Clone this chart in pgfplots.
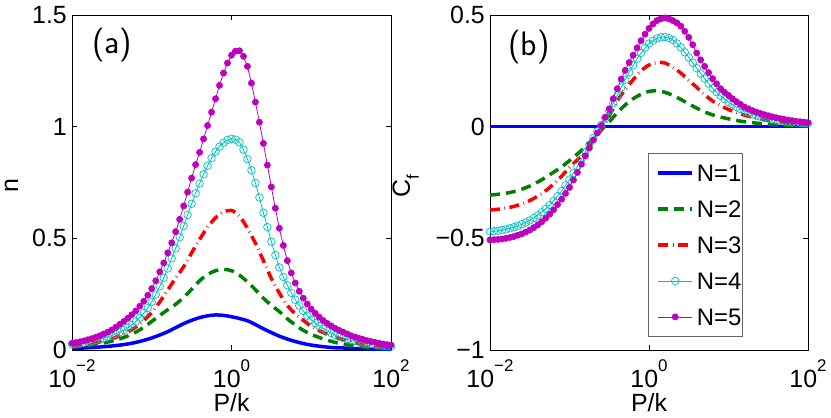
\documentclass[border=0pt]{standalone}
\usepackage{fontspec}
\setmainfont{Liberation Sans}
\usepackage{pgfplots}
\pgfplotsset{compat=1.18}
\usepackage{pgfplotstable}

\definecolor{mgreen}{rgb}{0,0.5,0}
\definecolor{mcyan}{rgb}{0,0.75,0.75}
\definecolor{mmag}{rgb}{0.75,0,0.75}

% L = log10(P/k)
\pgfplotstableread{
L n1 n2 n3
-2.0 0.007 0.014 0.019
-1.9 0.008 0.017 0.023
-1.8 0.010 0.021 0.027
-1.7 0.012 0.026 0.033
-1.6 0.015 0.032 0.040
-1.5 0.018 0.040 0.050
-1.4 0.022 0.050 0.064
-1.3 0.027 0.063 0.081
-1.2 0.034 0.080 0.103
-1.1 0.043 0.102 0.132
-1.0 0.054 0.128 0.168
-0.9 0.067 0.155 0.215
-0.8 0.082 0.180 0.268
-0.7 0.100 0.205 0.322
-0.6 0.118 0.235 0.373
-0.5 0.133 0.272 0.435
-0.4 0.145 0.310 0.495
-0.3 0.153 0.338 0.550
-0.2 0.157 0.355 0.592
-0.1 0.155 0.361 0.618
0.0 0.149 0.355 0.625
0.1 0.141 0.335 0.600
0.2 0.131 0.305 0.545
0.3 0.114 0.270 0.478
0.4 0.095 0.232 0.400
0.5 0.078 0.200 0.320
0.6 0.062 0.172 0.255
0.7 0.049 0.140 0.200
0.8 0.038 0.112 0.162
0.9 0.029 0.088 0.133
1.0 0.022 0.070 0.106
1.1 0.017 0.056 0.087
1.2 0.013 0.044 0.070
1.3 0.010 0.034 0.057
1.4 0.009 0.027 0.046
1.5 0.007 0.021 0.037
1.6 0.006 0.016 0.030
1.7 0.005 0.013 0.024
1.8 0.004 0.011 0.020
1.9 0.004 0.009 0.016
2.0 0.003 0.008 0.013
}\tabAc

\pgfplotstableread{
L n4 n5
-2.00 0.025 0.030
-1.95 0.027 0.033
-1.90 0.030 0.037
-1.85 0.033 0.041
-1.80 0.036 0.046
-1.75 0.040 0.051
-1.70 0.044 0.057
-1.65 0.048 0.064
-1.60 0.053 0.072
-1.55 0.059 0.080
-1.50 0.065 0.090
-1.45 0.072 0.102
-1.40 0.080 0.115
-1.35 0.089 0.128
-1.30 0.100 0.142
-1.25 0.112 0.158
-1.20 0.127 0.175
-1.15 0.145 0.196
-1.10 0.165 0.218
-1.05 0.188 0.245
-1.00 0.215 0.275
-0.95 0.248 0.310
-0.90 0.285 0.350
-0.85 0.323 0.390
-0.80 0.365 0.435
-0.75 0.410 0.480
-0.70 0.455 0.530
-0.65 0.505 0.585
-0.60 0.555 0.645
-0.55 0.605 0.707
-0.50 0.655 0.770
-0.45 0.702 0.830
-0.40 0.745 0.885
-0.35 0.787 0.945
-0.30 0.825 1.005
-0.25 0.859 1.065
-0.20 0.888 1.125
-0.15 0.911 1.185
-0.10 0.928 1.240
-0.05 0.940 1.285
0.00 0.946 1.320
0.05 0.942 1.338
0.10 0.930 1.340
0.15 0.897 1.315
0.20 0.855 1.270
0.25 0.805 1.195
0.30 0.748 1.110
0.35 0.683 1.020
0.40 0.615 0.925
0.45 0.550 0.828
0.50 0.485 0.730
0.55 0.425 0.635
0.60 0.370 0.545
0.65 0.327 0.468
0.70 0.290 0.400
0.75 0.256 0.345
0.80 0.225 0.300
0.85 0.199 0.263
0.90 0.175 0.232
0.95 0.154 0.206
1.00 0.135 0.183
1.05 0.120 0.164
1.10 0.107 0.147
1.15 0.096 0.132
1.20 0.085 0.119
1.25 0.076 0.108
1.30 0.067 0.097
1.35 0.060 0.088
1.40 0.054 0.080
1.45 0.049 0.072
1.50 0.044 0.064
1.55 0.040 0.058
1.60 0.036 0.052
1.65 0.032 0.047
1.70 0.029 0.042
1.75 0.026 0.038
1.80 0.024 0.034
1.85 0.021 0.030
1.90 0.019 0.027
1.95 0.017 0.024
2.00 0.015 0.022
}\tabAf

\pgfplotstableread{
L c1 c2 c3
-2.0 0 -0.306 -0.373
-1.9 0 -0.303 -0.370
-1.8 0 -0.298 -0.365
-1.7 0 -0.291 -0.357
-1.6 0 -0.280 -0.346
-1.5 0 -0.266 -0.331
-1.4 0 -0.248 -0.311
-1.3 0 -0.227 -0.287
-1.2 0 -0.204 -0.257
-1.1 0 -0.180 -0.222
-1.0 0 -0.152 -0.182
-0.9 0 -0.122 -0.148
-0.8 0 -0.090 -0.110
-0.7 0 -0.053 -0.062
-0.6 0 -0.015 -0.012
-0.5 0 0.022 0.048
-0.4 0 0.062 0.115
-0.3 0 0.097 0.166
-0.2 0 0.125 0.210
-0.1 0 0.145 0.250
0.0 0 0.158 0.276
0.1 0 0.161 0.288
0.2 0 0.154 0.285
0.3 0 0.140 0.266
0.4 0 0.122 0.240
0.5 0 0.102 0.208
0.6 0 0.083 0.176
0.7 0 0.066 0.143
0.8 0 0.053 0.115
0.9 0 0.043 0.094
1.0 0 0.035 0.077
1.1 0 0.028 0.063
1.2 0 0.022 0.052
1.3 0 0.018 0.042
1.4 0 0.014 0.034
1.5 0 0.011 0.028
1.6 0 0.009 0.023
1.7 0 0.007 0.020
1.8 0 0.006 0.017
1.9 0 0.005 0.015
2.0 0 0.004 0.013
}\tabBc

\pgfplotstableread{
L c4 c5
-2.00 -0.470 -0.507
-1.95 -0.468 -0.506
-1.90 -0.466 -0.505
-1.85 -0.463 -0.503
-1.80 -0.460 -0.500
-1.75 -0.455 -0.496
-1.70 -0.450 -0.492
-1.65 -0.444 -0.486
-1.60 -0.437 -0.480
-1.55 -0.429 -0.472
-1.50 -0.420 -0.463
-1.45 -0.409 -0.452
-1.40 -0.397 -0.440
-1.35 -0.383 -0.426
-1.30 -0.368 -0.410
-1.25 -0.351 -0.392
-1.20 -0.332 -0.372
-1.15 -0.311 -0.349
-1.10 -0.288 -0.325
-1.05 -0.263 -0.299
-1.00 -0.237 -0.272
-0.95 -0.208 -0.239
-0.90 -0.178 -0.205
-0.85 -0.146 -0.168
-0.80 -0.113 -0.131
-0.75 -0.081 -0.095
-0.70 -0.050 -0.060
-0.65 -0.021 -0.028
-0.60 0.008 0.005
-0.55 0.038 0.042
-0.50 0.070 0.080
-0.45 0.105 0.125
-0.40 0.140 0.170
-0.35 0.175 0.213
-0.30 0.210 0.252
-0.25 0.243 0.287
-0.20 0.275 0.320
-0.15 0.304 0.353
-0.10 0.330 0.385
-0.05 0.353 0.414
0.00 0.372 0.440
0.05 0.385 0.460
0.10 0.395 0.475
0.15 0.400 0.483
0.20 0.402 0.487
0.25 0.397 0.483
0.30 0.388 0.475
0.35 0.373 0.465
0.40 0.355 0.450
0.45 0.333 0.427
0.50 0.310 0.400
0.55 0.286 0.367
0.60 0.262 0.330
0.65 0.238 0.299
0.70 0.215 0.270
0.75 0.193 0.242
0.80 0.172 0.215
0.85 0.154 0.192
0.90 0.138 0.170
0.95 0.123 0.154
1.00 0.110 0.140
1.05 0.099 0.125
1.10 0.088 0.112
1.15 0.079 0.100
1.20 0.070 0.088
1.25 0.063 0.080
1.30 0.056 0.072
1.35 0.050 0.065
1.40 0.045 0.059
1.45 0.040 0.054
1.50 0.036 0.049
1.55 0.032 0.044
1.60 0.029 0.040
1.65 0.026 0.036
1.70 0.024 0.033
1.75 0.022 0.030
1.80 0.020 0.027
1.85 0.018 0.024
1.90 0.017 0.022
1.95 0.016 0.020
2.00 0.015 0.018
}\tabBf

\newcommand{\tl}[1]{10\raisebox{16bp}{\fontsize{17}{17}\selectfont #1}}

\pgfplotsset{
  mpanel/.style={
    scale only axis, height=335bp,
    xmin=-2, xmax=2,
    xtick={-2,0,2},
    xticklabels={\tl{−2},\tl{0},\tl{2}},
    tick align=inside, tick pos=both,
    xticklabel pos=lower, yticklabel pos=left,
    major tick length=5bp,
    major tick style={black, line width=0.8bp},
    axis line style={black, line width=0.8bp},
    ticklabel style={font=\fontsize{25}{25}\selectfont},
    xticklabel style={anchor=base, inner sep=0pt, yshift=-38bp},
    yticklabel style={anchor=east, inner sep=0pt, xshift=-5bp},
    clip=false,
    legend image code/.code={\draw[mark repeat=2,mark phase=2] plot coordinates {(0bp,0bp)(17bp,0bp)(34bp,0bp)};},
  },
  s1/.style={blue, line width=3.5bp},
  s2/.style={mgreen, line width=3.5bp, dash pattern=on 10bp off 6bp},
  s3/.style={red, line width=3.5bp, dash pattern=on 10bp off 4.5bp on 0.6bp off 4.5bp},
  s4/.style={mcyan, line width=0.8bp, mark=o, mark size=3.8bp, mark options={solid, line width=0.7bp}},
  s5/.style={mmag, line width=0.8bp, mark=*, mark size=3bp, mark options={solid, fill=mmag}},
}

\begin{document}
\begin{tikzpicture}
\useasboundingbox (0,0) rectangle (831bp,418bp);

\begin{axis}[mpanel, at={(72bp,68bp)}, anchor=south west, width=319bp,
  ymin=0, ymax=1.5, ytick={0,0.5,1,1.5}, yticklabels={0,0.5,1,1.5}]
\addplot[s1, smooth] table[x=L,y=n1]{\tabAc};
\addplot[s2, smooth] table[x=L,y=n2]{\tabAc};
\addplot[s3, smooth] table[x=L,y=n3]{\tabAc};
\addplot[s4] table[x=L,y=n4]{\tabAf};
\addplot[s5] table[x=L,y=n5]{\tabAf};
\node[anchor=north west, inner sep=0pt, font=\sffamily\fontsize{34}{34}\selectfont] at (rel axis cs:0.063,0.961) {(a)};
\node[rotate=90, anchor=base, inner sep=0pt, font=\fontsize{25}{25}\selectfont] at (rel axis cs:-0.169,0.49) {n};
\node[anchor=base, inner sep=0pt, font=\fontsize{25}{25}\selectfont] at (rel axis cs:0.5,-0.185) {P/k};
\end{axis}

\begin{axis}[mpanel, at={(490bp,68bp)}, anchor=south west, width=318bp,
  ymin=-1, ymax=0.5, ytick={-1,-0.5,0,0.5}, yticklabels={−1,−0.5,0,0.5},
  legend cell align=left,
  legend style={at={(0.497,0.588)}, anchor=north west, draw=black!60, line width=0.8bp, fill=white,
    font=\fontsize{24}{24}\selectfont, inner xsep=8bp, inner ysep=11bp, row sep=19bp,
    nodes={inner sep=0pt, text height=17bp, text depth=0bp},
    /tikz/every odd column/.append style={column sep=3bp}}]
\addplot[s1] table[x=L,y=c1]{\tabBc};
\addlegendentry{N=1\hspace*{-7bp}}
\addplot[s2, smooth] table[x=L,y=c2]{\tabBc};
\addlegendentry{N=2\hspace*{-7bp}}
\addplot[s3, smooth] table[x=L,y=c3]{\tabBc};
\addlegendentry{N=3\hspace*{-7bp}}
\addplot[s4] table[x=L,y=c4]{\tabBf};
\addlegendentry{N=4\hspace*{-7bp}}
\addplot[s5] table[x=L,y=c5]{\tabBf};
\addlegendentry{N=5\hspace*{-7bp}}
\node[anchor=north west, inner sep=0pt, font=\sffamily\fontsize{34}{34}\selectfont] at (rel axis cs:0.057,0.955) {(b)};
\node[rotate=90, anchor=base, inner sep=0pt, font=\fontsize{25}{25}\selectfont] at (rel axis cs:-0.2516,0.49) {C\raisebox{-9bp}{\fontsize{17}{17}\selectfont f}};
\node[anchor=base, inner sep=0pt, font=\fontsize{25}{25}\selectfont] at (rel axis cs:0.5,-0.185) {P/k};
\end{axis}
\end{tikzpicture}
\end{document}
